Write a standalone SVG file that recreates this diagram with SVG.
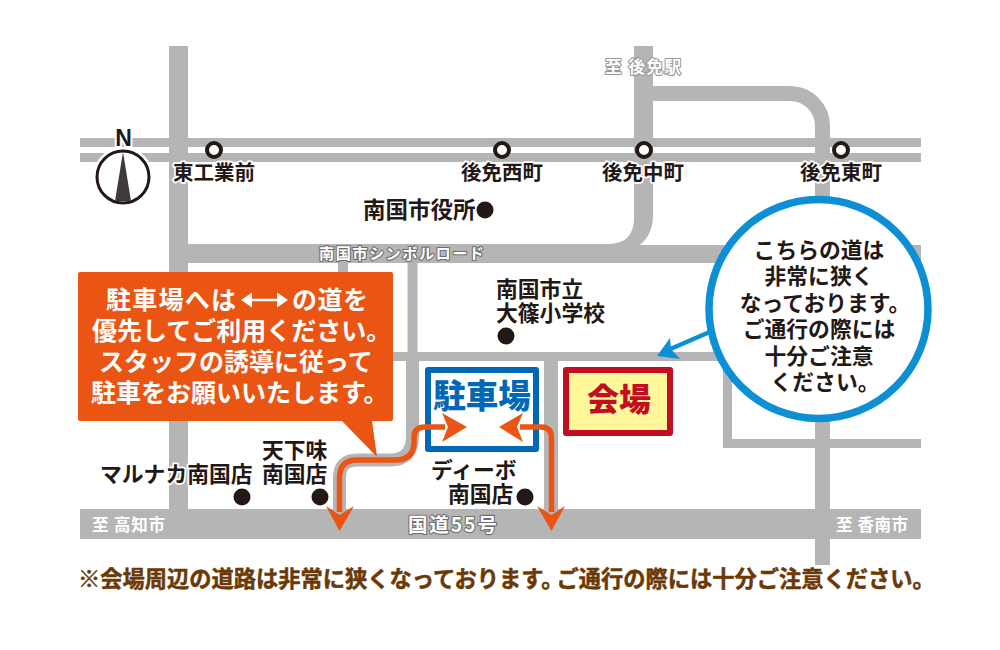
<svg xmlns="http://www.w3.org/2000/svg" width="1000" height="650" viewBox="0 0 1000 650">
<style>
text{font-family:"Noto Sans CJK JP","Noto Sans",sans-serif;font-weight:700}
.road{fill:none;stroke:#b5b5b5}
.lbl{fill:#231815;font-size:21.800px;stroke:#fff;stroke-width:3.5px;paint-order:stroke;stroke-linejoin:round}
.stn{fill:#fff;stroke:#231815;stroke-width:4}
.dot{fill:#231815}
.wh{fill:#fff;font-size:25px}
.rdl{fill:#fff;stroke:#6e6e6e;stroke-width:2.2px;paint-order:stroke;stroke-linejoin:round}
.cir{fill:#231815;font-size:21.800px;text-anchor:middle}
.arr{fill:none;stroke:#ea5514;stroke-width:5.5}
.head{fill:#ea5514}
</style>
<rect width="1000" height="650" fill="#fff"/>
<g id="roads">
<path class="road" stroke-width="19" d="M178.500 46V510"/>
<path class="road" stroke-width="9" d="M80 142.500H921M80 157.500H921"/>
<path fill="#b5b5b5" d="M634 46H653V215Q653 234 640 245H921V263H169V244H608Q634 244 634 218Z"/>
<path class="road" stroke-width="15" d="M650 93.500H790A32.500 32.500 0 0 1 822.500 126V565"/>
<path class="road" stroke-width="10" d="M343 263V275M412.500 263V352"/>
<path class="road" stroke-width="9" d="M169 356.500H725"/>
<path class="road" stroke-width="9" d="M727.500 361V443.500H921"/>
<path class="road" stroke-width="14" d="M551 356V512"/>
<path class="road" stroke-width="13" d="M412.500 352V436Q412.500 460 390 460H357Q339.500 460 339.500 478V512"/>
<rect x="80" y="509" width="841" height="30" fill="#b5b5b5"/>
</g>
<g id="north">
<text x="123.500" y="146" font-size="23" text-anchor="middle" fill="#231815" stroke="#fff" stroke-width="4" paint-order="stroke" style="font-family:'Liberation Sans',sans-serif;font-weight:700">N</text>
<circle cx="123" cy="177" r="26" fill="#fff" stroke="#fff" stroke-width="8"/>
<circle cx="123" cy="177" r="26" fill="#fff" stroke="#231815" stroke-width="3"/>
<path d="M123 152L131 201H115Z" fill="#3e3a39"/>
</g>
<g id="stations">
<g id="st-higashikogyomae"><circle class="stn" cx="214" cy="150" r="7"/><text class="lbl" x="173" y="180" style="font-size:20.500px">東工業前</text></g>
<g id="st-gomennishi"><circle class="stn" cx="502" cy="150" r="7"/><text class="lbl" x="461" y="180" style="font-size:20.500px">後免西町</text></g>
<g id="st-gomennaka"><circle class="stn" cx="644" cy="150" r="7"/><text class="lbl" x="602" y="180" style="font-size:20.500px">後免中町</text></g>
<g id="st-gomenhigashi"><circle class="stn" cx="841" cy="150" r="7"/><text class="lbl" x="800" y="180" style="font-size:20.500px">後免東町</text></g>
</g>
<g id="places">
<g id="city-hall"><text class="lbl" x="363" y="218" style="font-size:22.500px">南国市役所</text><circle class="dot" cx="485" cy="210" r="8.500"/></g>
<g id="school"><text class="lbl" x="496" y="297">南国市立</text><text class="lbl" x="496" y="321">大篠小学校</text><circle class="dot" cx="506" cy="336" r="8.500"/></g>
<g id="marunaka"><text class="lbl" x="100" y="482">マルナカ南国店</text><circle class="dot" cx="242" cy="497" r="8.500"/></g>
<g id="tenkaaji"><text class="lbl" x="262" y="458">天下味</text><text class="lbl" x="262" y="482">南国店</text><circle class="dot" cx="320" cy="497" r="8.500"/></g>
<g id="dibo"><text class="lbl" x="431" y="478">ディーボ</text><text class="lbl" x="448" y="502">南国店</text><circle class="dot" cx="525" cy="497" r="8.500"/></g>
</g>
<g id="road-labels">
<text class="rdl" x="319" y="259" font-size="15.200" textLength="165">南国市シンボルロード</text>
<text class="rdl" x="605" y="73" font-size="16.500" textLength="76" style="stroke:#999">至 後免駅</text>
<text x="92" y="531" font-size="16.500" fill="#fff" textLength="73">至 高知市</text>
<text x="836" y="531" font-size="16.500" fill="#fff" textLength="72">至 香南市</text>
<text class="rdl" x="408" y="532" font-size="19.500" textLength="89">国道55号</text>
</g>
<g id="parking">
<rect x="428" y="370" width="108" height="79" fill="#fff" stroke="#0068b7" stroke-width="6" stroke-linejoin="round"/>
<text x="482" y="408" font-size="32.500" fill="#0068b7" text-anchor="middle" style="font-weight:900">駐車場</text>
</g>
<g id="venue">
<rect x="566" y="370" width="104" height="63" fill="#fff799" stroke="#c30d23" stroke-width="6" stroke-linejoin="round"/>
<text x="619" y="411" font-size="32" fill="#c30d23" text-anchor="middle" style="font-weight:900">会場</text>
</g>
<g id="connectors">
<path class="arr" d="M445 427H425Q414 427 414 438V442Q414 460 395 460H357Q339.500 460 339.500 478V512"/>
<path class="head" d="M339.500 531L326 506L339.500 515L354 506Z"/>
<path class="head" d="M467 427L442 413L448 427L442 442Z"/>
<path class="arr" d="M520 427H541Q551.500 427 551.500 438V512"/>
<path class="head" d="M551.500 531L537 506L551.500 515L565 506Z"/>
<path class="head" d="M499 427L523 413L517 427L523 442Z"/>
<path d="M712 331L668 350" fill="none" stroke="#0d8fd6" stroke-width="4.500"/>
<path d="M657 356L670 338L671 349L680 359Z" fill="#0d8fd6"/>
</g>
<g id="notice-orange">
<path d="M80 272H391Q393 272 393 274V419Q393 421 391 421H372L377 457L342 421H80Q78 421 78 419V274Q78 272 80 272Z" fill="#ea5514"/>
<text class="wh" x="106" y="309" textLength="130">駐車場へは</text>
<path d="M241 300L252 292.500V298.800H277V292.500L288 300L277 307.500V301.200H252V307.500Z" fill="#fff"/>
<text class="wh" x="292" y="309" textLength="76">の道を</text>
<text class="wh" x="92" y="340">優先してご利用ください。</text>
<text class="wh" x="99" y="371">スタッフの誘導に従って</text>
<text class="wh" x="91" y="402">駐車をお願いいたします。</text>
</g>
<g id="notice-circle">
<circle cx="818.500" cy="309" r="109.500" fill="#fff" stroke="#0d8fd6" stroke-width="7.500"/>
<text class="cir" x="819" y="257.500">こちらの道は</text>
<text class="cir" x="819" y="284">非常に狭く</text>
<text class="cir" x="825" y="310.500">なっております。</text>
<text class="cir" x="819" y="337">ご通行の際には</text>
<text class="cir" x="819" y="363.500">十分ご注意</text>
<text class="cir" x="825" y="389.500">ください。</text>
</g>
<text id="footer" x="78" y="587" font-size="22.250" fill="#6a3906" stroke="#6a3906" stroke-width="0.500">※会場周辺の道路は非常に狭くなっております。<tspan dx="-7">ご通行の際には十分ご注意ください。</tspan></text>
</svg>
